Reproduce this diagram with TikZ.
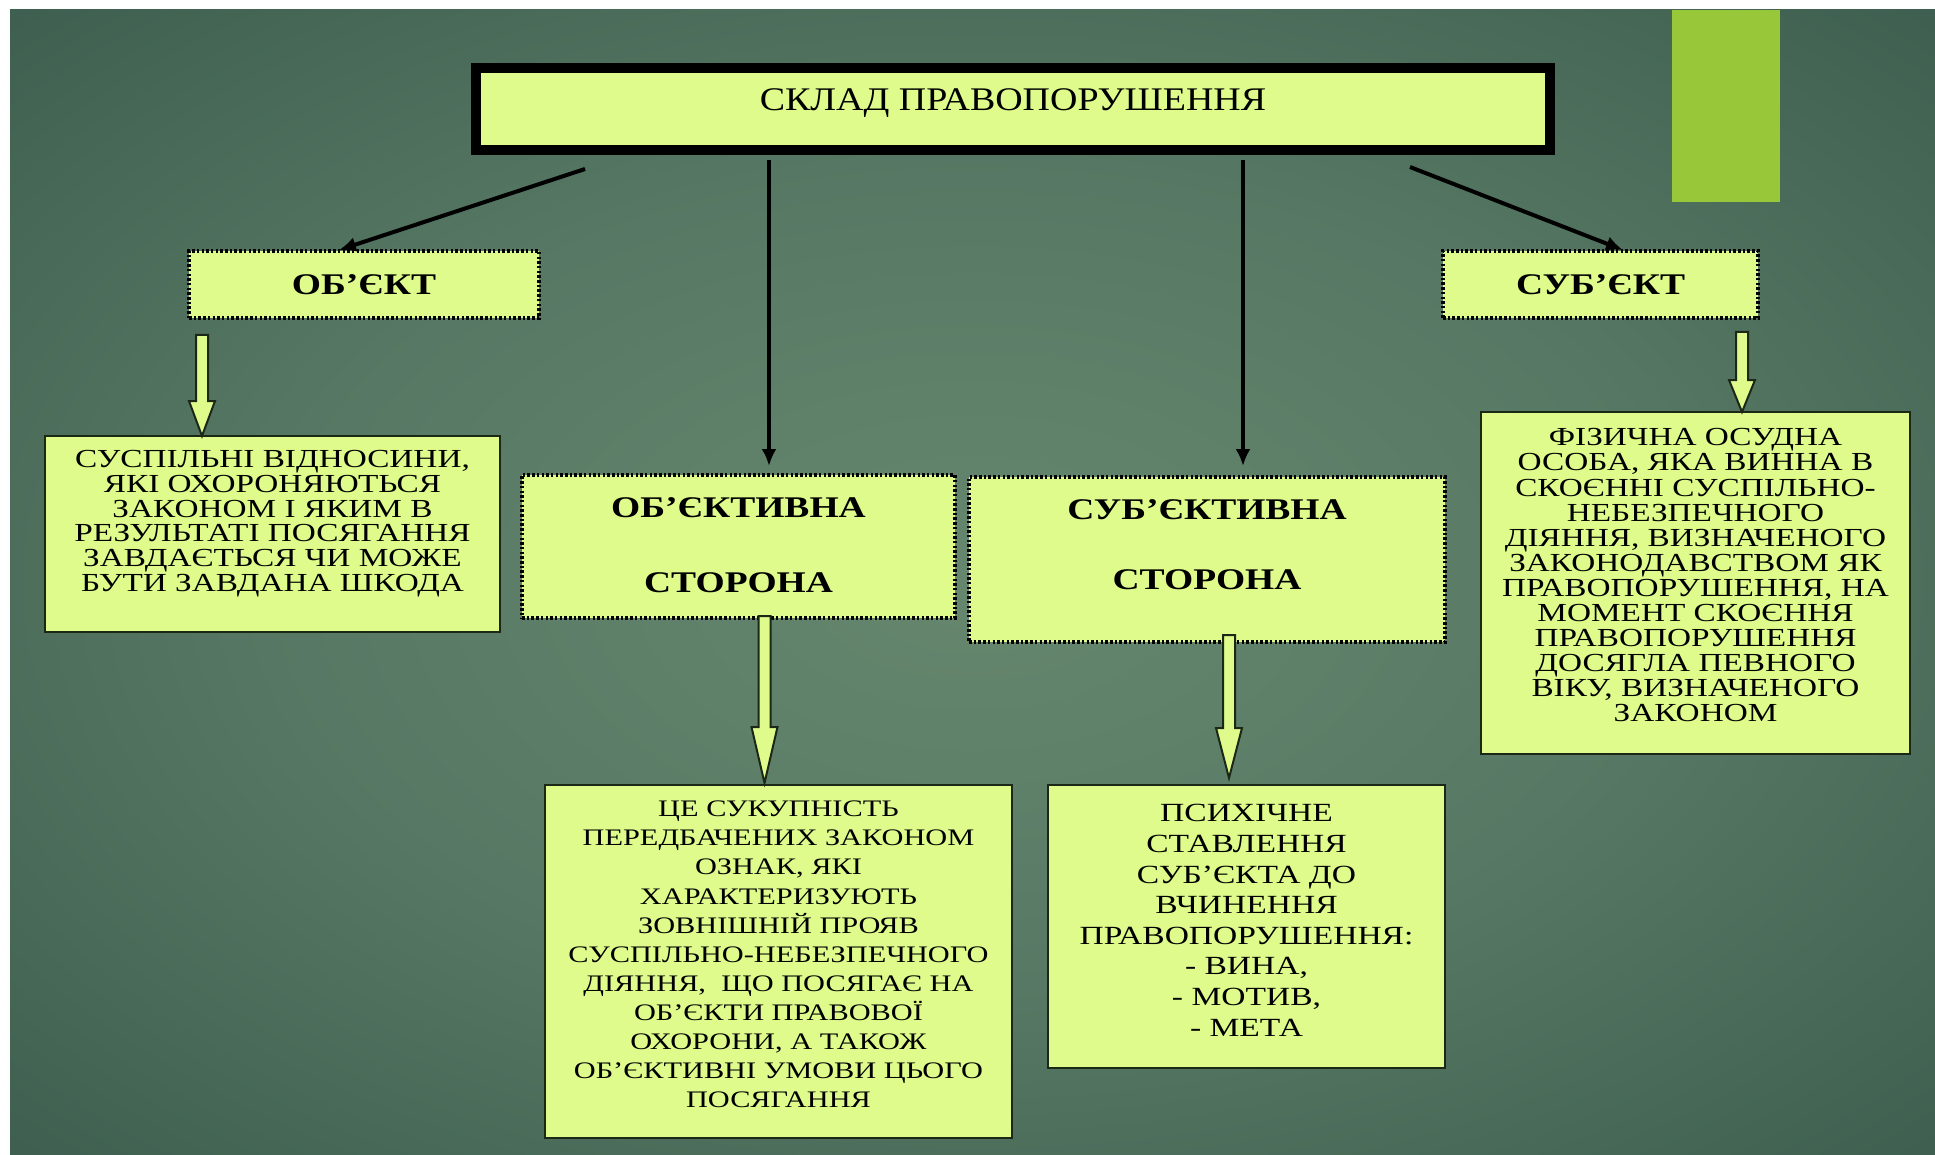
\documentclass[tikz,border=0pt]{standalone}
\usepackage{fontspec}
\setmainfont{Liberation Serif}
\newfontfamily\descfont[FakeStretch=1.28]{Liberation Serif}
\newfontfamily\labfont[FakeStretch=1.25]{Liberation Serif}
\newfontfamily\ttlfont[FakeStretch=1.15]{Liberation Serif}
\usetikzlibrary{arrows.meta,calc}
\definecolor{boxfill}{RGB}{222,251,140}
\definecolor{accentgreen}{RGB}{152,200,58}
\definecolor{edgedark}{RGB}{28,40,22}
\pgfdeclareradialshading{bgshade}{\pgfpoint{0bp}{0bp}}{rgb(0bp)=(0.40,0.53,0.43); rgb(18bp)=(0.34,0.47,0.39); rgb(38bp)=(0.23,0.36,0.30); rgb(50bp)=(0.18,0.30,0.26)}
\newcommand\tightls{\lineskiplimit=-1000pt\relax}
\newcommand\blockarr[3]{\path[blk] ($(#1)+(-6,0)$) -- ($(#2)+(-6,-#3)$) -- ($(#2)+(-13,-#3)$) -- (#2) -- ($(#2)+(13,-#3)$) -- ($(#2)+(6,-#3)$) -- ($(#1)+(6,0)$) -- cycle;}
\begin{document}
\begin{tikzpicture}[x=1pt,y=-1pt,
  every node/.style={outer sep=0pt},
  titlebox/.style={draw=black, line width=10pt, fill=boxfill, inner sep=0pt, minimum width=1074pt, minimum height=82pt},
  labbox/.style={draw=black, line width=3.5pt, dash pattern=on 2.5pt off 2.2pt, fill=boxfill, inner sep=0pt},
  descbox/.style={draw=edgedark, line width=2.5pt, fill=boxfill, inner sep=0pt},
  desctext/.style={align=center, inner sep=0pt, anchor=north, text=black},
  labtext/.style={font=\labfont\bfseries\fontsize{30}{30}\selectfont, inner sep=0pt, text=black},
  conn/.style={draw=black, line width=4pt, -{Latex[length=17pt,width=15pt]}},
  blk/.style={draw=edgedark, line width=2pt, fill=boxfill, line join=miter}]
\useasboundingbox (0,0) rectangle (1935,1155);
\fill[white] (0,0) rectangle (1935,1155);
\shade[shading=bgshade] (10,10) rectangle (1935,1155);
\fill[accentgreen] (1672,10) rectangle (1780,202);

% boxes
\node[titlebox] (title) at (1013,109) {};
\node[labbox, minimum width=350pt, minimum height=67pt] (objlab) at (364,284.5) {};
\node[labbox, minimum width=315pt, minimum height=67pt] (subjlab) at (1600.5,284.5) {};
\node[labbox, minimum width=433pt, minimum height=143pt] (objside) at (738.5,546.5) {};
\node[labbox, minimum width=476pt, minimum height=165pt] (subjside) at (1207,559.5) {};
\node[descbox, minimum width=455pt, minimum height=196pt] (leftdesc) at (272.5,534) {};
\node[descbox, minimum width=429pt, minimum height=342pt] (rightdesc) at (1695.5,583) {};
\node[descbox, minimum width=467pt, minimum height=353pt] (objdesc) at (778.5,961.5) {};
\node[descbox, minimum width=397pt, minimum height=283pt] (subjdesc) at (1246.5,926.5) {};

% texts
\node[font=\ttlfont\fontsize{33}{33}\selectfont, inner sep=0pt] (titlet) at ([yshift=6pt]title.center) {СКЛАД ПРАВОПОРУШЕННЯ};
\node[labtext] (objlabt) at (objlab.center) {ОБ’ЄКТ};
\node[labtext] (subjlabt) at (subjlab.center) {СУБ’ЄКТ};
\node[labtext, align=center, anchor=north, font=\labfont\bfseries\fontsize{30}{75}\selectfont\tightls] (objsidet) at ([yshift=-23pt]objside.north) {ОБ’ЄКТИВНА\\СТОРОНА};
\node[labtext, align=center, anchor=north, font=\labfont\bfseries\fontsize{30}{70}\selectfont\tightls] (subjsidet) at ([yshift=-23pt]subjside.north) {СУБ’ЄКТИВНА\\СТОРОНА};

\node[desctext, font=\descfont\fontsize{26}{24.7}\selectfont\tightls] (leftdesct) at ([yshift=-14.6pt]leftdesc.north) {СУСПІЛЬНІ ВІДНОСИНИ,\\ЯКІ ОХОРОНЯЮТЬСЯ\\ЗАКОНОМ І ЯКИМ В\\РЕЗУЛЬТАТІ ПОСЯГАННЯ\\ЗАВДАЄТЬСЯ ЧИ МОЖЕ\\БУТИ ЗАВДАНА ШКОДА};
\node[desctext, font=\descfont\fontsize{26}{25.1}\selectfont\tightls] (rightdesct) at ([yshift=-16.6pt]rightdesc.north) {ФІЗИЧНА ОСУДНА\\ОСОБА, ЯКА ВИННА В\\СКОЄННІ СУСПІЛЬНО-\\НЕБЕЗПЕЧНОГО\\ДІЯННЯ, ВИЗНАЧЕНОГО\\ЗАКОНОДАВСТВОМ ЯК\\ПРАВОПОРУШЕННЯ, НА\\МОМЕНТ СКОЄННЯ\\ПРАВОПОРУШЕННЯ\\ДОСЯГЛА ПЕВНОГО\\ВІКУ, ВИЗНАЧЕНОГО\\ЗАКОНОМ};
\node[desctext, font=\descfont\fontsize{23.7}{29.1}\selectfont\tightls] (objdesct) at ([yshift=-16pt]objdesc.north) {ЦЕ СУКУПНІСТЬ\\ПЕРЕДБАЧЕНИХ ЗАКОНОМ\\ОЗНАК, ЯКІ\\ХАРАКТЕРИЗУЮТЬ\\ЗОВНІШНІЙ ПРОЯВ\\СУСПІЛЬНО-НЕБЕЗПЕЧНОГО\\ДІЯННЯ, \ ЩО ПОСЯГАЄ НА\\ОБ’ЄКТИ ПРАВОВОЇ\\ОХОРОНИ, А ТАКОЖ\\ОБ’ЄКТИВНІ УМОВИ ЦЬОГО\\ПОСЯГАННЯ};
\node[desctext, font=\descfont\fontsize{26.2}{30.6}\selectfont\tightls] (subjdesct) at ([yshift=-19.5pt]subjdesc.north) {ПСИХІЧНЕ\\СТАВЛЕННЯ\\СУБ’ЄКТА ДО\\ВЧИНЕННЯ\\ПРАВОПОРУШЕННЯ:\\- ВИНА,\\- МОТИВ,\\- МЕТА};

% black connectors
\draw[conn] ([xshift=-428pt,yshift=-19pt]title.south) -- ([xshift=-25pt,yshift=1pt]objlab.north);
\draw[conn] ([xshift=-244pt,yshift=-10pt]title.south) -- ([xshift=30.5pt,yshift=9pt]objside.north);
\draw[conn] ([xshift=230pt,yshift=-10pt]title.south) -- ([xshift=36pt,yshift=11pt]subjside.north);
\draw[conn] ([xshift=397pt,yshift=-17pt]title.south) -- ([xshift=22.5pt,yshift=1pt]subjlab.north);

% block arrows
\coordinate (ba1s) at ([xshift=-162pt,yshift=-17pt]objlab.south);
\coordinate (ba1e) at (ba1s |- leftdesc.north);
\coordinate (ba2s) at ([xshift=141.5pt,yshift=-14pt]subjlab.south);
\coordinate (ba2e) at (ba2s |- rightdesc.north);
\coordinate (ba3s) at ([xshift=26pt,yshift=2pt]objside.south);
\coordinate (ba3e) at ([yshift=2pt]ba3s |- objdesc.north);
\coordinate (ba4s) at ([xshift=22pt,yshift=7pt]subjside.south);
\coordinate (ba4e) at ([yshift=7pt]ba4s |- subjdesc.north);
\blockarr{ba1s}{ba1e}{35}
\blockarr{ba2s}{ba2e}{32}
\blockarr{ba3s}{ba3e}{56}
\blockarr{ba4s}{ba4e}{50}
\end{tikzpicture}
\end{document}
